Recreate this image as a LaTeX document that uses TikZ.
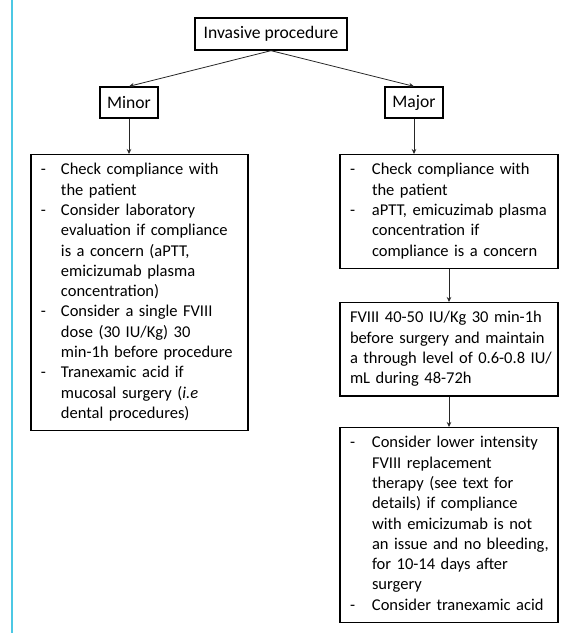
\documentclass[tikz,border=0pt]{standalone}
\usepackage{fontspec}
\setmainfont{Carlito}
\usepackage{tikz}
\usetikzlibrary{arrows.meta}
\usetikzlibrary{positioning}

\definecolor{randcyan}{RGB}{76,200,228}

\newcommand{\schrift}{\fontsize{16.5pt}{20.3pt}\selectfont}
\newcommand{\grossschrift}{\fontsize{17.6pt}{20.3pt}\selectfont}

\begin{document}
\begin{tikzpicture}[x=1pt, y=-1pt,
		kasten/.style={draw, line width=1.3pt, font=\grossschrift, inner sep=0pt},
		liste/.style={kasten, font=\schrift, anchor=north, text width=#1, align=left, inner xsep=10pt, inner ysep=6pt},
		pfeil/.style={draw=black!85, line width=0.8pt, -{Stealth[length=5pt, width=4.5pt]}}]
		\useasboundingbox (0,0) rectangle (567,633);
		\draw[randcyan, line width=2pt] (12,0) -- (12,633);

		\path
		(271,34) node[kasten, minimum height=32pt, minimum width=152pt] (inv) {Invasive procedure}
		(129,102.5) node[kasten, minimum height=31pt, minimum width=58pt] (minor) {Minor}
		(414,102.5) node[kasten, minimum height=31pt, minimum width=58pt] (major) {Major};

		\node[liste=197pt] (links) at (139.5,154) {%
			\begin{tabular}{@{}p{20pt}@{}l@{}}
			- & Check compliance with\\
			  & the patient\\
			- & Consider laboratory\\
			  & evaluation if compliance\\
			  & is a concern (aPTT,\\
			  & emicizumab plasma\\
			  & concentration)\\
			- & Consider a single FVIII\\
			  & dose (30 IU/Kg) 30\\
			  & min-1h before procedure\\
			- & Tranexamic acid if\\
			  & mucosal surgery (\textit{i.e}\\
			  & dental procedures)
			\end{tabular}};

		\node[liste=198pt] (r1) at (449,154) {%
			\begin{tabular}{@{}p{22pt}@{}l@{}}
			- & Check compliance with\\
			  & the patient\\
			- & aPTT, emicuzimab plasma\\
			  & concentration if\\
			  & compliance is a concern
			\end{tabular}};

		\node[liste=198pt] (r2) at (449,302) {%
			\begin{tabular}{@{}l@{}}
			FVIII 40-50 IU/Kg 30 min-1h\\
			before surgery and maintain\\
			a through level of 0.6-0.8 IU/\\
			mL during 48-72h
			\end{tabular}};

		\node[liste=198pt] (r3) at (449,427) {%
			\begin{tabular}{@{}p{22pt}@{}l@{}}
			- & Consider lower intensity\\
			  & FVIII replacement\\
			  & therapy (see text for\\
			  & details) if compliance\\
			  & with emicizumab is not\\
			  & an issue and no bleeding,\\
			  & for 10-14 days after\\
			  & surgery\\
			- & Consider tranexamic acid
			\end{tabular}};

		\draw[pfeil] (inv.south) -- (minor.north);
		\draw[pfeil] (inv.south) -- (major.north);
		\draw[pfeil] (minor.south) -- (minor.south |- links.north);
		\draw[pfeil] (major.south) -- (major.south |- r1.north);
		\draw[pfeil] (r1) -- (r2);
		\draw[pfeil] (r2) -- (r3);
	\end{tikzpicture}
\end{document}
